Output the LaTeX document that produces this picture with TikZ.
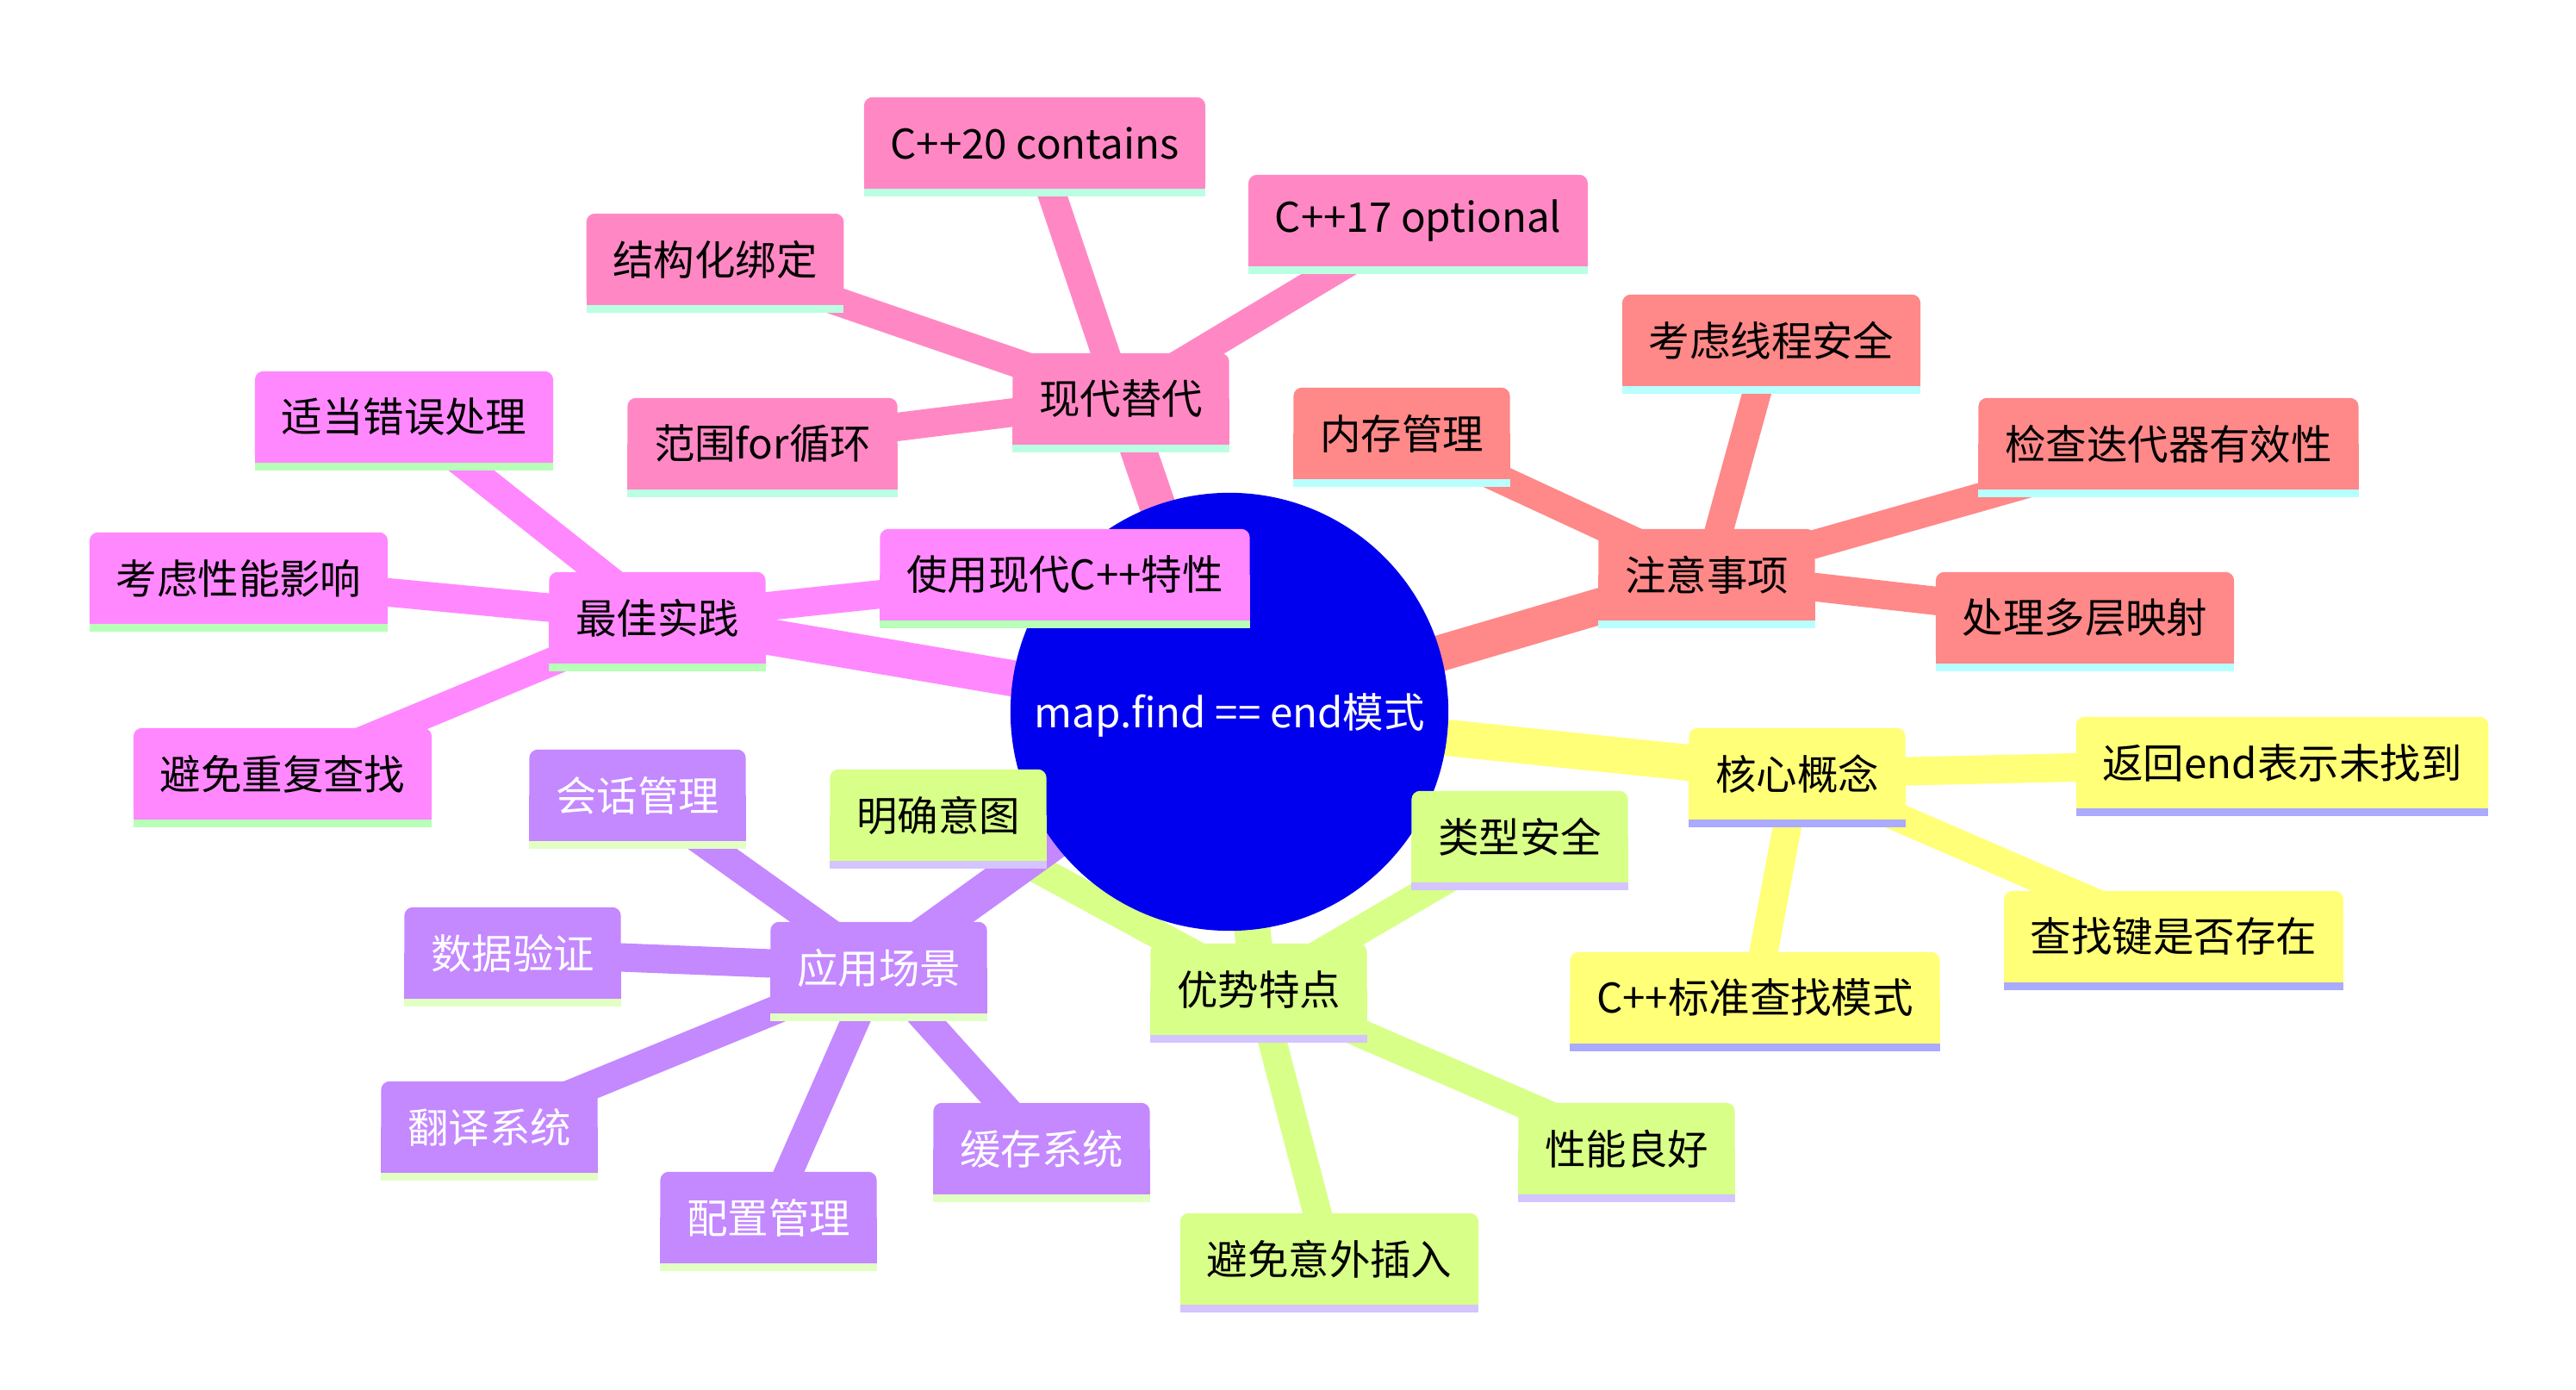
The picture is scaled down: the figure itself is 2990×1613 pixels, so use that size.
\documentclass[tikz,border=0pt]{standalone}
\usepackage{fontspec}
\setmainfont{Noto Sans CJK SC}
\usetikzlibrary{calc}
\pgfdeclarelayer{edges}
\pgfdeclarelayer{rootlayer}
\pgfdeclarelayer{bg}
\pgfsetlayers{edges,rootlayer,bg,main}
\definecolor{rootblue}{HTML}{0000EE}
\definecolor{cpink}{HTML}{FF88C4}
\definecolor{cpinkS}{HTML}{BBFFE2}
\definecolor{cmag}{HTML}{FF88FF}
\definecolor{cmagS}{HTML}{B8FFB8}
\definecolor{csal}{HTML}{FF8888}
\definecolor{csalS}{HTML}{B8FFFF}
\definecolor{cyel}{HTML}{FFFF78}
\definecolor{cyelS}{HTML}{AAAAFF}
\definecolor{cgrn}{HTML}{D8FF88}
\definecolor{cgrnS}{HTML}{D4C4FF}
\definecolor{cpur}{HTML}{C488FF}
\definecolor{cpurS}{HTML}{E2FFC4}
\tikzset{
  mmtext/.style={inner xsep=0.3cm, inner ysep=0pt, minimum height=1.05cm,
    font=\fontsize{13.5pt}{16pt}\selectfont},
  rootedge/.style={line width=0.42cm},
  childedge/.style={line width=0.33cm},
}
\newcommand{\mmnode}[6][black]{%
  \node[mmtext, text=#1] (#2) at (#3) {#4};
  \begin{pgfonlayer}{bg}
    \fill[#5, rounded corners=0.1cm] (#2.north west) rectangle (#2.south east);
    \fill[#5] (#2.west) rectangle (#2.south east);
    \fill[#6] (#2.south west) rectangle ([yshift=-0.09cm]#2.south east);
  \end{pgfonlayer}}
\begin{document}
\begin{tikzpicture}[x=0.01cm, y=-0.01cm]
\useasboundingbox (0,0) rectangle (2990,1613);
% root
\node[circle, minimum size=5.08cm, inner sep=0pt, text=white,
  font=\fontsize{13.5pt}{16pt}\selectfont] (root) at (1427,830) {map.find == end模式};
\begin{pgfonlayer}{rootlayer}
  \fill[rootblue] ([yshift=0.04cm]root.center) circle (2.54cm);
\end{pgfonlayer}
% pink branch
\mmnode{xd}{1301,463}{现代替代}{cpink}{cpinkS}
\mmnode{c20}{1201,166}{C++20 contains}{cpink}{cpinkS}
\mmnode{c17}{1646,256}{C++17 optional}{cpink}{cpinkS}
\mmnode{jgh}{830,301}{结构化绑定}{cpink}{cpinkS}
\mmnode{fwf}{885,515}{范围for循环}{cpink}{cpinkS}
% magenta branch
\mmnode{zj}{763,717}{最佳实践}{cmag}{cmagS}
\mmnode{cw}{469,484}{适当错误处理}{cmag}{cmagS}
\mmnode{xn}{277,671}{考虑性能影响}{cmag}{cmagS}
\mmnode{cf}{328,898}{避免重复查找}{cmag}{cmagS}
\mmnode{xd2}{1236,667}{使用现代C++特性}{cmag}{cmagS}
% salmon branch
\mmnode{zy}{1981,667}{注意事项}{csal}{csalS}
\mmnode{nc}{1627,503}{内存管理}{csal}{csalS}
\mmnode{xc}{2056,395}{考虑线程安全}{csal}{csalS}
\mmnode{dd}{2517,515}{检查迭代器有效性}{csal}{csalS}
\mmnode{dc}{2420,717}{处理多层映射}{csal}{csalS}
% yellow branch
\mmnode{hx}{2086,898}{核心概念}{cyel}{cyelS}
\mmnode{fh}{2649,885}{返回end表示未找到}{cyel}{cyelS}
\mmnode{cz}{2523,1087}{查找键是否存在}{cyel}{cyelS}
\mmnode{bz}{2037,1158}{C++标准查找模式}{cyel}{cyelS}
% green branch
\mmnode{ys}{1461,1148}{优势特点}{cgrn}{cgrnS}
\mmnode{mq}{1089,946}{明确意图}{cgrn}{cgrnS}
\mmnode{lx}{1764,971}{类型安全}{cgrn}{cgrnS}
\mmnode{xl}{1888,1333}{性能良好}{cgrn}{cgrnS}
\mmnode{yw}{1543,1461}{避免意外插入}{cgrn}{cgrnS}
% purple branch
\mmnode[white]{yy}{1020,1123}{应用场景}{cpur}{cpurS}
\mmnode[white]{hh}{740,923}{会话管理}{cpur}{cpurS}
\mmnode[white]{sj}{595,1106}{数据验证}{cpur}{cpurS}
\mmnode[white]{fy}{568,1308}{翻译系统}{cpur}{cpurS}
\mmnode[white]{pz}{892,1413}{配置管理}{cpur}{cpurS}
\mmnode[white]{hc}{1209,1333}{缓存系统}{cpur}{cpurS}
% edges
\begin{pgfonlayer}{edges}
  \draw[rootedge, cpink] (root.center) -- (xd.center);
  \draw[childedge, cpink] (xd.center) -- (c20.center);
  \draw[childedge, cpink] (xd.center) -- (c17.center);
  \draw[childedge, cpink] (xd.center) -- (jgh.center);
  \draw[childedge, cpink] (xd.center) -- (fwf.center);
  \draw[rootedge, cmag] (root.center) -- (zj.center);
  \draw[childedge, cmag] (zj.center) -- (cw.center);
  \draw[childedge, cmag] (zj.center) -- (xn.center);
  \draw[childedge, cmag] (zj.center) -- (cf.center);
  \draw[childedge, cmag] (zj.center) -- (xd2.center);
  \draw[rootedge, csal] (root.center) -- (zy.center);
  \draw[childedge, csal] (zy.center) -- (nc.center);
  \draw[childedge, csal] (zy.center) -- (xc.center);
  \draw[childedge, csal] (zy.center) -- (dd.center);
  \draw[childedge, csal] (zy.center) -- (dc.center);
  \draw[rootedge, cyel] (root.center) -- (hx.center);
  \draw[childedge, cyel] (hx.center) -- (fh.center);
  \draw[childedge, cyel] (hx.center) -- (cz.center);
  \draw[childedge, cyel] (hx.center) -- (bz.center);
  \draw[rootedge, cgrn] (root.center) -- (ys.center);
  \draw[childedge, cgrn] (ys.center) -- (mq.center);
  \draw[childedge, cgrn] (ys.center) -- (lx.center);
  \draw[childedge, cgrn] (ys.center) -- (xl.center);
  \draw[childedge, cgrn] (ys.center) -- (yw.center);
  \draw[rootedge, cpur] (root.center) -- (yy.center);
  \draw[childedge, cpur] (yy.center) -- (hh.center);
  \draw[childedge, cpur] (yy.center) -- (sj.center);
  \draw[childedge, cpur] (yy.center) -- (fy.center);
  \draw[childedge, cpur] (yy.center) -- (pz.center);
  \draw[childedge, cpur] (yy.center) -- (hc.center);
\end{pgfonlayer}
\end{tikzpicture}
\end{document}
